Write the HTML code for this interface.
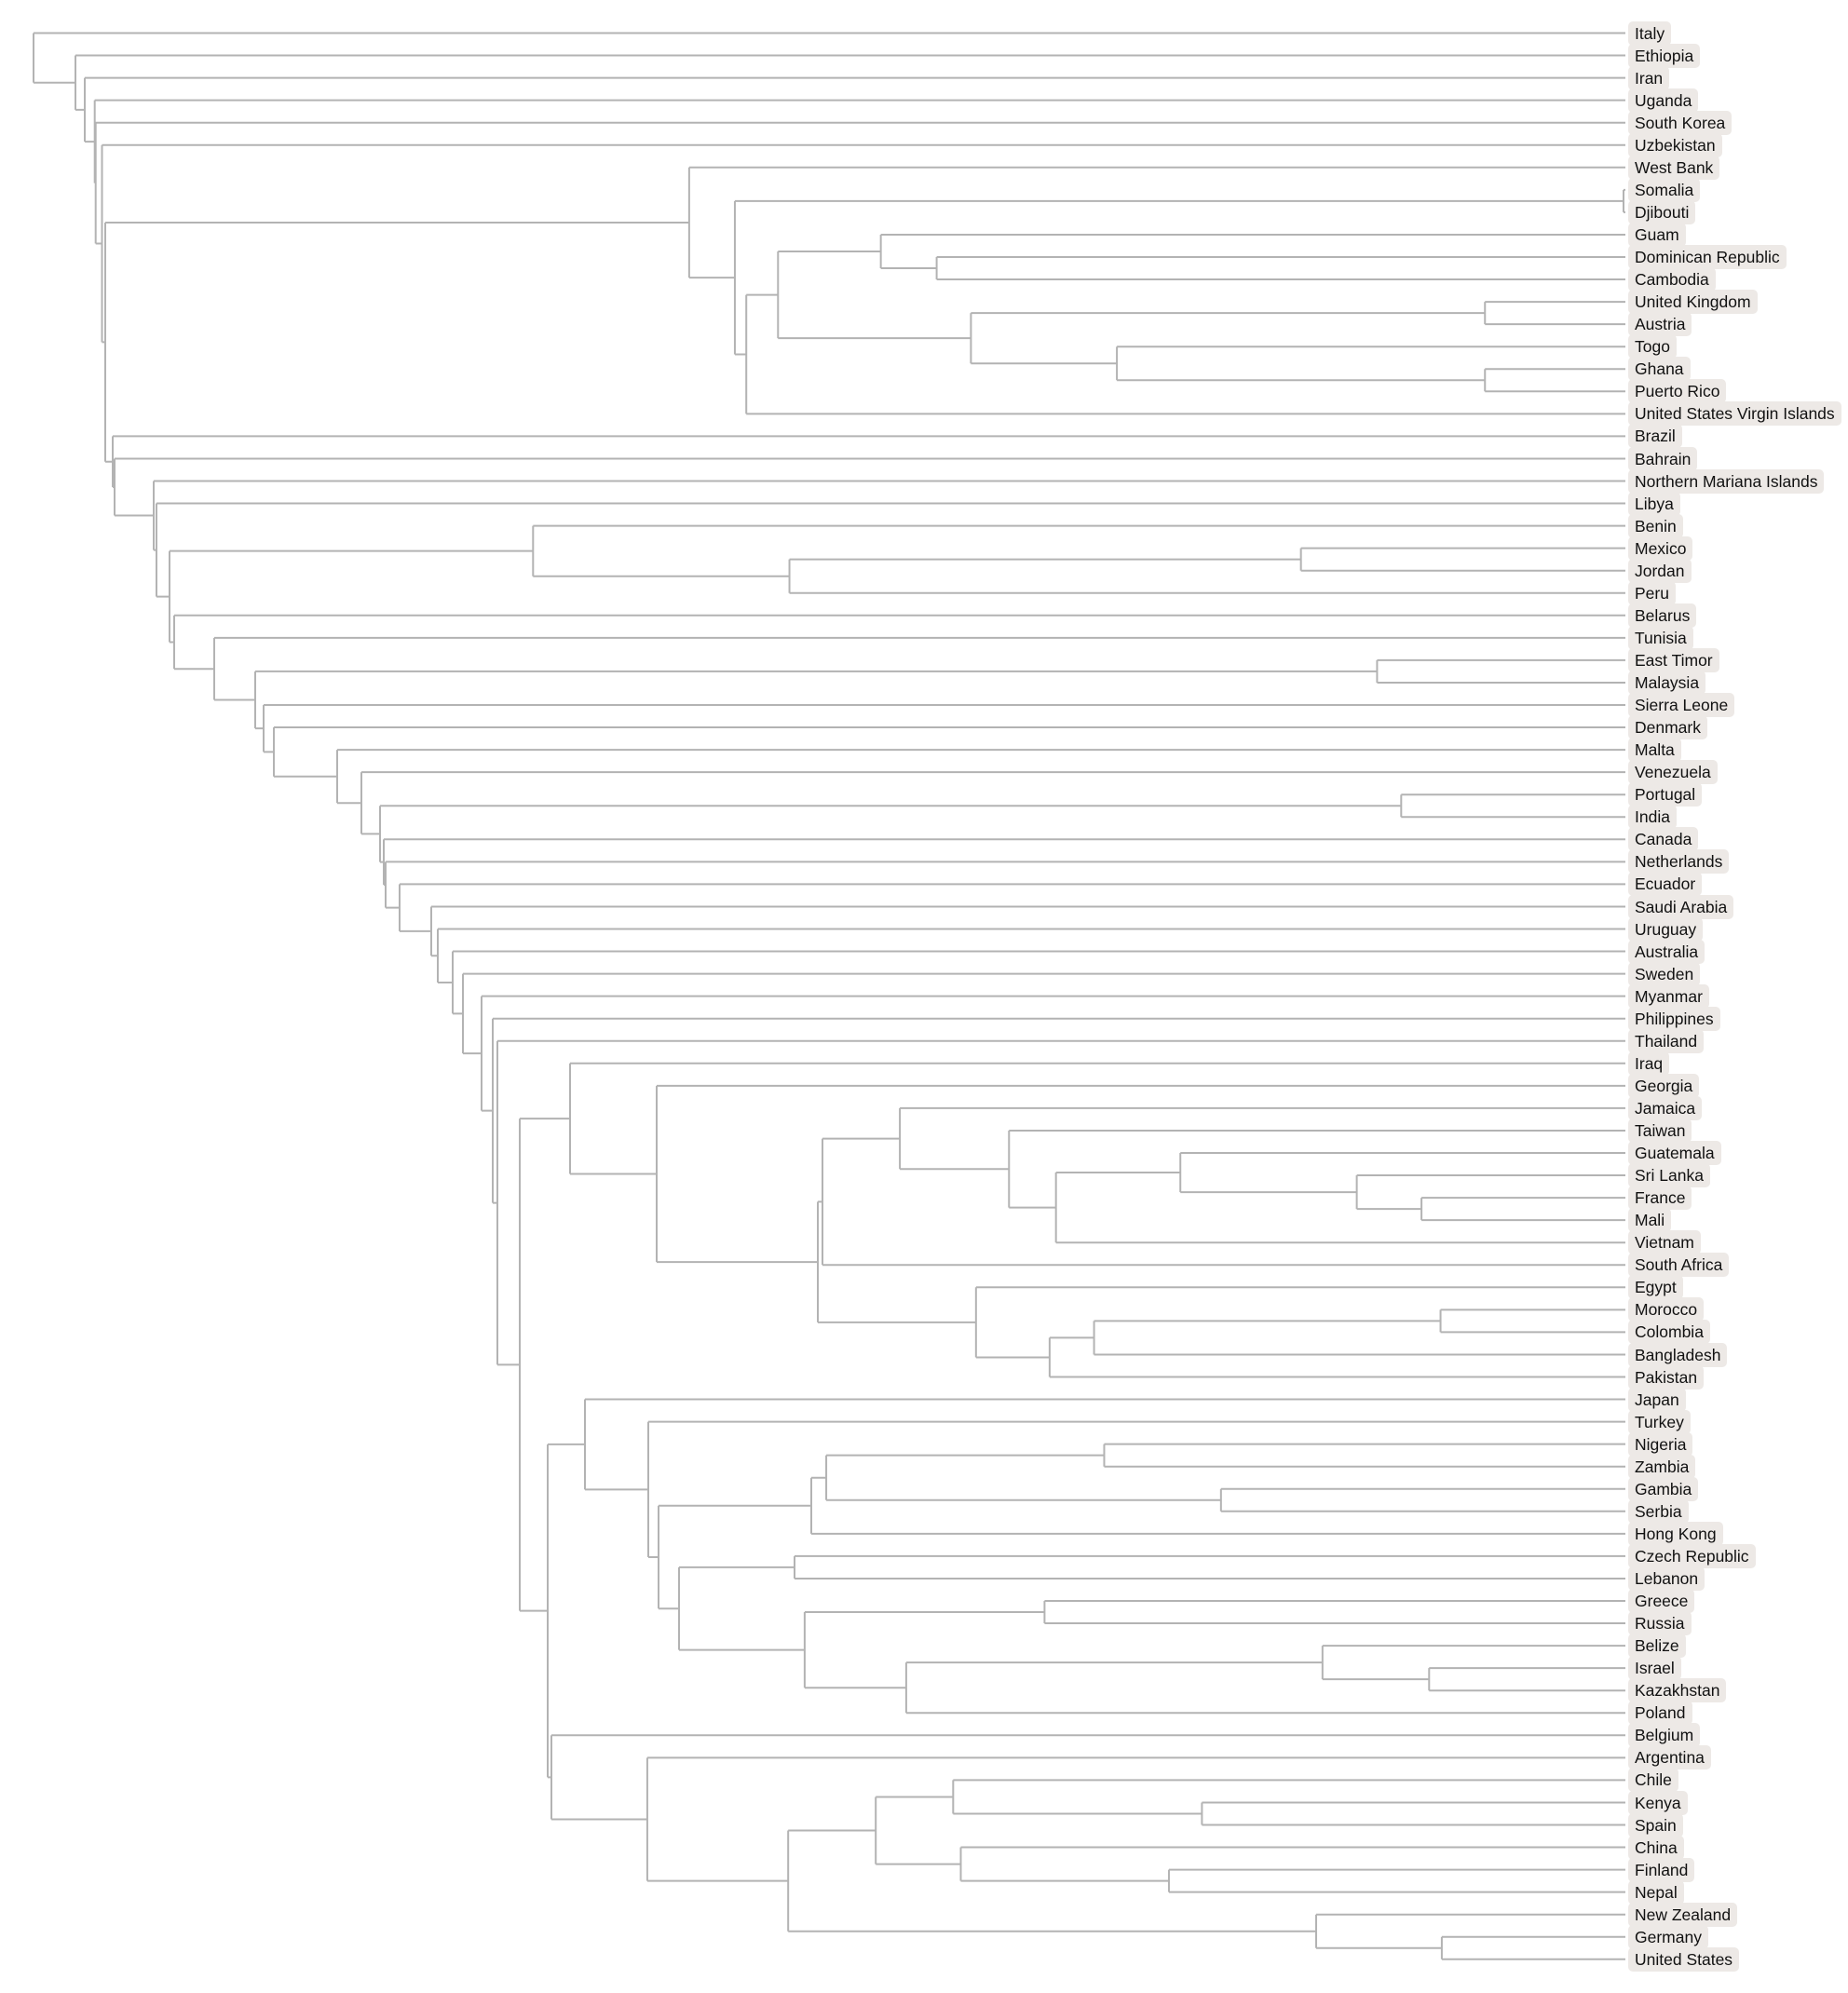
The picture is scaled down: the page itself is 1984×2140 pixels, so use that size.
<!DOCTYPE html>
<html><head><meta charset="utf-8">
<style>
html,body{margin:0;padding:0;background:#fff;}
#wrap{position:relative;width:1984px;height:2140px;overflow:hidden;}
svg{position:absolute;left:0;top:0;}
.l{position:absolute;left:1748px;height:26px;line-height:26px;padding:0 7px 0 7px;background:#ede9e6;border-radius:5px;font-family:"Liberation Sans",Arial,sans-serif;font-size:17.5px;color:#111;white-space:nowrap;}
</style></head><body>
<div id="wrap">
<svg id="s" width="1984" height="2140"></svg>
<div id="labels">
<div class="l" style="top:22.5px">Italy</div>
<div class="l" style="top:46.6px">Ethiopia</div>
<div class="l" style="top:70.6px">Iran</div>
<div class="l" style="top:94.7px">Uganda</div>
<div class="l" style="top:118.7px">South Korea</div>
<div class="l" style="top:142.8px">Uzbekistan</div>
<div class="l" style="top:166.8px">West Bank</div>
<div class="l" style="top:190.9px">Somalia</div>
<div class="l" style="top:214.9px">Djibouti</div>
<div class="l" style="top:239.0px">Guam</div>
<div class="l" style="top:263.0px">Dominican Republic</div>
<div class="l" style="top:287.1px">Cambodia</div>
<div class="l" style="top:311.1px">United Kingdom</div>
<div class="l" style="top:335.2px">Austria</div>
<div class="l" style="top:359.2px">Togo</div>
<div class="l" style="top:383.3px">Ghana</div>
<div class="l" style="top:407.3px">Puerto Rico</div>
<div class="l" style="top:431.4px">United States Virgin Islands</div>
<div class="l" style="top:455.4px">Brazil</div>
<div class="l" style="top:479.5px">Bahrain</div>
<div class="l" style="top:503.5px">Northern Mariana Islands</div>
<div class="l" style="top:527.6px">Libya</div>
<div class="l" style="top:551.6px">Benin</div>
<div class="l" style="top:575.7px">Mexico</div>
<div class="l" style="top:599.7px">Jordan</div>
<div class="l" style="top:623.8px">Peru</div>
<div class="l" style="top:647.8px">Belarus</div>
<div class="l" style="top:671.9px">Tunisia</div>
<div class="l" style="top:695.9px">East Timor</div>
<div class="l" style="top:720.0px">Malaysia</div>
<div class="l" style="top:744.0px">Sierra Leone</div>
<div class="l" style="top:768.1px">Denmark</div>
<div class="l" style="top:792.1px">Malta</div>
<div class="l" style="top:816.2px">Venezuela</div>
<div class="l" style="top:840.2px">Portugal</div>
<div class="l" style="top:864.3px">India</div>
<div class="l" style="top:888.3px">Canada</div>
<div class="l" style="top:912.4px">Netherlands</div>
<div class="l" style="top:936.4px">Ecuador</div>
<div class="l" style="top:960.5px">Saudi Arabia</div>
<div class="l" style="top:984.5px">Uruguay</div>
<div class="l" style="top:1008.6px">Australia</div>
<div class="l" style="top:1032.6px">Sweden</div>
<div class="l" style="top:1056.7px">Myanmar</div>
<div class="l" style="top:1080.7px">Philippines</div>
<div class="l" style="top:1104.8px">Thailand</div>
<div class="l" style="top:1128.8px">Iraq</div>
<div class="l" style="top:1152.9px">Georgia</div>
<div class="l" style="top:1176.9px">Jamaica</div>
<div class="l" style="top:1201.0px">Taiwan</div>
<div class="l" style="top:1225.0px">Guatemala</div>
<div class="l" style="top:1249.1px">Sri Lanka</div>
<div class="l" style="top:1273.1px">France</div>
<div class="l" style="top:1297.2px">Mali</div>
<div class="l" style="top:1321.2px">Vietnam</div>
<div class="l" style="top:1345.3px">South Africa</div>
<div class="l" style="top:1369.3px">Egypt</div>
<div class="l" style="top:1393.4px">Morocco</div>
<div class="l" style="top:1417.4px">Colombia</div>
<div class="l" style="top:1441.5px">Bangladesh</div>
<div class="l" style="top:1465.5px">Pakistan</div>
<div class="l" style="top:1489.6px">Japan</div>
<div class="l" style="top:1513.6px">Turkey</div>
<div class="l" style="top:1537.7px">Nigeria</div>
<div class="l" style="top:1561.7px">Zambia</div>
<div class="l" style="top:1585.8px">Gambia</div>
<div class="l" style="top:1609.8px">Serbia</div>
<div class="l" style="top:1633.9px">Hong Kong</div>
<div class="l" style="top:1657.9px">Czech Republic</div>
<div class="l" style="top:1682.0px">Lebanon</div>
<div class="l" style="top:1706.0px">Greece</div>
<div class="l" style="top:1730.1px">Russia</div>
<div class="l" style="top:1754.1px">Belize</div>
<div class="l" style="top:1778.2px">Israel</div>
<div class="l" style="top:1802.2px">Kazakhstan</div>
<div class="l" style="top:1826.3px">Poland</div>
<div class="l" style="top:1850.3px">Belgium</div>
<div class="l" style="top:1874.4px">Argentina</div>
<div class="l" style="top:1898.4px">Chile</div>
<div class="l" style="top:1922.5px">Kenya</div>
<div class="l" style="top:1946.5px">Spain</div>
<div class="l" style="top:1970.6px">China</div>
<div class="l" style="top:1994.6px">Finland</div>
<div class="l" style="top:2018.7px">Nepal</div>
<div class="l" style="top:2042.7px">New Zealand</div>
<div class="l" style="top:2066.8px">Germany</div>
<div class="l" style="top:2090.8px">United States</div>
</div>
</div>
<script>
var K=1.3626; function d(v){return v*K;}
var idx=0;
function L(){return {leaf:idx++};}
function N(x,a,b){return {x:x,c:[a,b]};}
var T=N(36,L(),N(81,L(),N(91,L(),N(101.7,L(),N(102.7,L(),N(109.5,L(),
 N(113,
  N(d(543),L(),N(d(579),N(1743,L(),L()),N(d(588),N(d(613),N(d(694),L(),N(d(738),L(),L())),N(d(765),N(d(1170),L(),L()),N(d(880),L(),N(d(1170),L(),L())))),L()))),
  N(121,L(),N(123,L(),N(165,L(),N(168,L(),N(182,
   N(d(420),L(),N(d(622),N(d(1025),L(),L()),L())),
   N(187,L(),N(230,L(),N(274,N(d(1085),L(),L()),N(283,L(),N(294,L(),N(362,L(),N(388,L(),N(408,N(d(1104),L(),L()),N(412,L(),N(414,L(),N(429,L(),N(463,L(),N(470,L(),N(486,L(),N(497,L(),N(517,L(),N(529,L(),N(534,L(),
    N(558,
     N(612,L(),N(705,L(),N(878,
        N(883,N(d(709),L(),N(d(795),L(),N(d(832),N(d(930),L(),N(d(1069),L(),N(d(1120),L(),L()))),L()))),L()),
        N(d(769),L(),N(d(827),N(d(862),N(d(1135),L(),L()),L()),L()))))),
     N(588,
       N(628,L(),N(696,L(),N(707,
          N(871,N(d(651),N(d(870),L(),L()),N(d(962),L(),L())),L()),
          N(729,N(853,L(),L()),N(d(634),N(d(823),L(),L()),N(d(714),N(d(1042),L(),N(d(1126),L(),L())),L())))))),
       N(592,L(),N(d(510),L(),N(d(621),N(d(690),N(d(751),L(),N(d(947),L(),L())),N(d(757),L(),N(d(921),L(),L()))),N(d(1037),L(),N(d(1136),L(),L()))))))
    )
   ))))))))))))))))))
  )))))
 )
))))));
var Y0=35.5,DY=24.05,XL=1745,out=[];
function pos(n){
 if(n.leaf!==undefined){n.y=Y0+n.leaf*DY;n.x=XL;return;}
 pos(n.c[0]);pos(n.c[1]);n.y=(n.c[0].y+n.c[1].y)/2;
 out.push('M'+n.x+' '+n.c[0].y+'V'+n.c[1].y);
 n.c.forEach(function(c){out.push('M'+n.x+' '+c.y+'H'+c.x);});
}
pos(T);
document.getElementById('s').innerHTML='<path d="'+out.join('')+'" fill="none" stroke="#b3b3b3" stroke-width="2"/>';
</script>
</body></html>
